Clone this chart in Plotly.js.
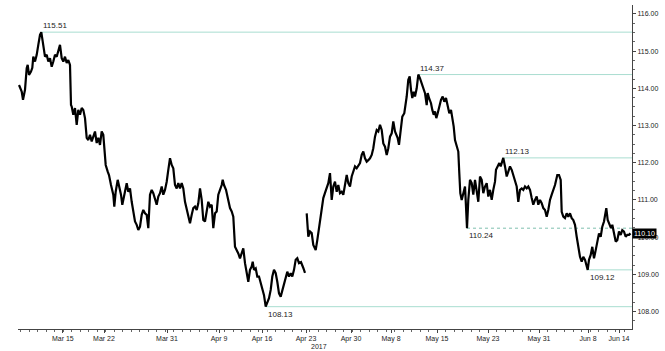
<!DOCTYPE html>
<html>
<head>
<meta charset="utf-8">
<script src="https://cdn.plot.ly/plotly-3.0.1.min.js"></script>
<style>html,body{margin:0;padding:0;background:#fff;}#chart{width:665px;height:351px;}</style>
</head>
<body>
<div id="chart"></div>
<script>
// Session time index (trading time, arbitrary units) and USD/JPY price
const t = [0,2.7,4,6,7.7,8.7,10,12,13.3,14.3,16,17.7,19.3,21,22.3,24.3,26,27.7,29.3,31,32.7,34.3,36,37.7,39.3,41,42.7,44.3,46,47.7,49.3,51,52,52.7,54.3,56,57.7,59.3,61,62.7,64.3,66,67.7,69.3,71,72.7,74.3,76,77.7,79.3,81,82.7,84.3,85.3,86.7,88.7,90,92,94.3,95.3,96.7,98.7,100,102,103.3,105.3,107.7,109.3,111,112.7,114.3,116,117.7,119.3,121,122.7,124.3,126,127.7,129.3,131,132.7,134.3,136,137.7,139.3,141,142.7,144.3,146,147.7,149.3,151,152.7,154.3,156,157.7,159.3,161,162.7,164.3,166,167.7,169.3,171,172.7,174.3,176,177.7,179.3,181,182.7,184.3,186,187.7,189.3,191,192.7,194.3,196,197.7,199.3,201,202.7,203.7,205,207,209.3,211,212.7,214.3,216,217.7,219.3,221,222.7,224.3,226,227.7,229.3,231,232.7,233.7,235,236.7,238.3,240,241.7,243.3,245,246.7,248.3,250,251.7,253.3,255,256.7,258.3,260,261.7,263.3,265,266.7,268.3,270,271.7,273.3,275,276.7,278.3,280,282,284.3,286,286.8,287.7,289.3,291,292.7,294.3,296.7,298.3,300,302,304.3,306,307.7,309.3,311,312.7,314.3,316,317.7,319.3,321,322.7,324.3,326,327.7,329.3,331,332.7,334.3,336,337.7,339.3,341,342.7,344.3,346,347.7,349.3,351,352.7,354.3,356,357.7,359.3,361,362.7,364.3,366,367.7,369.3,371,372.7,374.3,376,378.7,380,382,383.3,385.3,387.7,389.3,390.7,392,393.3,394.7,396,397.7,399.3,401,402.7,404.3,406,407.7,408.7,410,412,413.3,414.7,416,417.3,418.7,420.3,422,423.7,425.3,427,428.7,430.3,432,433.3,434.7,436,437.7,439.3,440.3,441.3,442.7,444.3,446,447,448,449.3,451,452.7,454.3,456,457.7,459.3,461,462.7,464.3,466,467.7,469.3,471,472.7,474.3,476,477,478.3,480.3,481.7,483.3,484.3,486,487.7,489.3,491,492.7,494.3,496,497.7,499.3,501,502.7,504.3,506,507.7,509.3,511,512.7,514.3,516,517.7,519.3,521,522.7,524.3,526,527.7,529.3,531,532.7,534.3,536,538.3,540,541.7,542.7,544.3,546,547.7,549.3,551,552.7,554.3,556,557.7,559.3,561,562.7,564.3,566,567.7,568.7,570,571.7,573.3,575,576.7,578.3,580,581.7,583.3,585,586,587.3,588.7,590.3,592,593.3,595,596.7,598.3,600,601.7,603.3,605,606.7,608.3,610,611.5];
const price = [114.09,113.91,113.69,113.96,114.54,114.63,114.36,114.45,114.55,114.85,114.72,114.90,115.17,115.44,115.51,115.17,114.85,114.90,114.72,114.81,114.58,114.72,114.90,114.85,115.03,115.17,114.81,114.72,114.85,114.68,114.76,114.63,113.55,113.51,113.29,113.47,113.02,113.42,113.29,113.47,113.42,113.20,112.67,112.61,112.75,112.57,112.70,112.84,112.53,112.67,112.48,112.84,112.75,112.30,111.94,111.76,111.67,111.40,111.14,110.82,111.22,111.54,111.40,111.14,110.87,111.14,111.45,111.22,111.31,110.95,110.73,110.42,110.33,110.19,110.28,110.60,110.73,110.64,110.60,110.24,111.14,111.27,111.18,111.00,110.87,111.09,111.18,111.36,111.14,111.27,111.49,111.81,112.12,111.94,111.85,111.40,111.31,111.45,111.31,111.45,111.31,110.95,110.73,110.55,110.37,110.60,110.78,110.82,110.73,110.91,111.31,111.00,110.46,110.42,110.73,110.95,110.82,110.87,110.24,110.64,110.69,111.14,111.27,111.40,111.54,111.40,111.27,110.95,110.78,110.69,110.55,109.74,109.65,109.56,109.43,109.61,109.70,109.30,109.03,108.80,109.12,109.21,109.34,109.12,109.16,108.94,108.94,108.76,108.62,108.44,108.13,108.26,108.36,108.58,108.94,109.12,109.03,108.80,108.49,108.40,108.58,108.71,108.94,109.07,108.94,109.03,108.94,109.12,109.39,109.43,109.30,109.33,109.17,109.04,null,110.64,110.01,110.15,110.11,109.79,109.65,109.92,110.28,110.65,111.05,111.19,111.36,111.45,111.72,111.00,111.36,111.49,111.22,111.40,111.18,111.22,111.14,111.40,111.67,111.45,111.36,111.63,111.76,111.90,111.85,111.94,111.99,112.21,112.30,112.12,112.03,112.07,112.12,112.21,112.39,112.70,112.88,112.84,113.02,112.88,112.52,112.43,112.21,112.39,112.70,112.79,113.11,112.84,112.66,112.48,112.97,113.24,113.33,113.78,114.23,114.32,113.96,113.74,113.91,113.78,114.00,114.37,114.27,114.14,114.05,113.87,113.55,113.87,113.74,113.60,113.42,113.29,113.38,113.20,113.33,113.51,113.69,113.78,113.64,113.74,113.51,113.33,113.42,113.24,112.97,112.61,112.48,112.30,111.72,111.18,111.00,111.22,111.36,110.82,110.24,111.00,111.54,111.45,111.14,111.54,111.22,110.95,111.63,111.54,111.18,111.36,111.45,111.09,111.27,111.00,111.27,111.49,111.81,111.90,111.99,111.90,112.03,112.13,111.90,111.63,111.76,111.90,111.81,111.67,111.54,111.36,110.95,111.27,111.31,111.27,111.36,111.31,111.36,111.27,111.05,110.87,111.00,111.09,110.87,111.00,110.91,110.78,110.73,110.55,110.73,111.00,111.14,111.27,111.40,111.67,111.67,111.54,110.68,110.55,110.51,110.64,110.55,110.64,110.51,110.46,110.33,110.01,109.70,109.47,109.34,109.47,109.39,109.25,109.12,109.39,109.52,109.74,109.43,109.65,109.88,110.10,110.01,110.28,110.42,110.55,110.78,110.46,110.33,110.24,110.33,110.10,109.88,109.92,110.15,110.06,110.19,110.15,110.01,110.06,110.06,110.10];

// Marked levels: value and the time where each line starts
const levelValues = [115.51, 114.37, 112.13, 108.13, 109.12];
const levelStarts = [22.3, 399.3, 484.3, 246.7, 568.7];
const dashedLevel = 110.24, dashedStart = 448;
const lastPrice = 110.10;

// X tick labels and their positions on the time index
const tickPos = [43.8, 85, 148, 200, 243, 287, 332, 372, 418, 469, 520, 569, 600];
const tickText = ["Mar 15","Mar 22","Mar 31","Apr 9","Apr 16","Apr 23","Apr 30","May 8","May 15","May 23","May 31","Jun 8","Jun 14"];
const yTicks = [108,109,110,111,112,113,114,115,116];

const lvlColor = '#a9ddd0';
const shapes = levelValues.map((v,i)=>({type:'line', xref:'x', yref:'y', x0:levelStarts[i], x1:613, y0:v, y1:v, line:{color:lvlColor, width:1}, layer:'below'}));
shapes.push({type:'line', xref:'x', yref:'y', x0:dashedStart, x1:613, y0:dashedLevel, y1:dashedLevel, line:{color:'#7fbfae', width:1, dash:'3px,3px'}, layer:'below'});

const fnt = {family:'Liberation Sans, Arial, sans-serif', size:7, color:'#222'};
const below = v => (v===108.13||v===109.12);
const annLabels = levelValues.map((v,i)=>({
  x: levelStarts[i], y: v, xref:'x', yref:'y', text: v.toFixed(2), showarrow:false,
  xanchor:'left', yanchor: below(v) ? 'top' : 'bottom',
  yshift: below(v) ? -1 : 0,
  font:{family:fnt.family, size:8, color:'#222'}
}));
annLabels.push({x:dashedStart, y:dashedLevel, xref:'x', yref:'y', text:dashedLevel.toFixed(2), showarrow:false, xanchor:'left', yanchor:'top', yshift:-1, font:{family:fnt.family, size:8, color:'#222'}});
annLabels.push({x:1, y:lastPrice, xref:'paper', yref:'y', text:lastPrice.toFixed(2), showarrow:false, xanchor:'left', yanchor:'middle', bgcolor:'#000', borderpad:1, font:{family:fnt.family, size:7, color:'#fff'}});
annLabels.push({x:0.49, y:0, xref:'paper', yref:'paper', yshift:-12, text:'2017', showarrow:false, xanchor:'center', yanchor:'top', font:fnt});

Plotly.newPlot('chart', [{
  x: t, y: price, type:'scatter', mode:'lines', connectgaps:false,
  line:{color:'#000', width:2.2}, hoverinfo:'skip'
}], {
  width:665, height:351,
  margin:{l:18, r:33, t:5, b:22},
  paper_bgcolor:'#fff', plot_bgcolor:'#fff',
  showlegend:false,
  xaxis:{
    range:[-1, 613], showgrid:false, zeroline:false,
    showline:true, linecolor:'#444', linewidth:1,
    tickmode:'array', tickvals:tickPos, ticktext:tickText,
    ticks:'outside', ticklen:3, tickcolor:'#444', tickfont:fnt,
    minor:{tickmode:'linear', tick0:1.5, dtick:8.5, ticks:'outside', ticklen:2, tickcolor:'#666', showgrid:false}
  },
  yaxis:{
    side:'right', range:[107.53, 116.24], showgrid:false, zeroline:false,
    showline:true, linecolor:'#444', linewidth:1,
    tickmode:'array', tickvals:yTicks, ticktext:yTicks.map(v=>v.toFixed(2)),
    ticks:'outside', ticklen:3, tickcolor:'#444', tickfont:fnt,
    minor:{tickmode:'linear', tick0:108, dtick:0.25, ticks:'outside', ticklen:2, tickcolor:'#666', showgrid:false}
  },
  shapes: shapes,
  annotations: annLabels
}, {staticPlot:true, displayModeBar:false});
</script>
</body>
</html>
